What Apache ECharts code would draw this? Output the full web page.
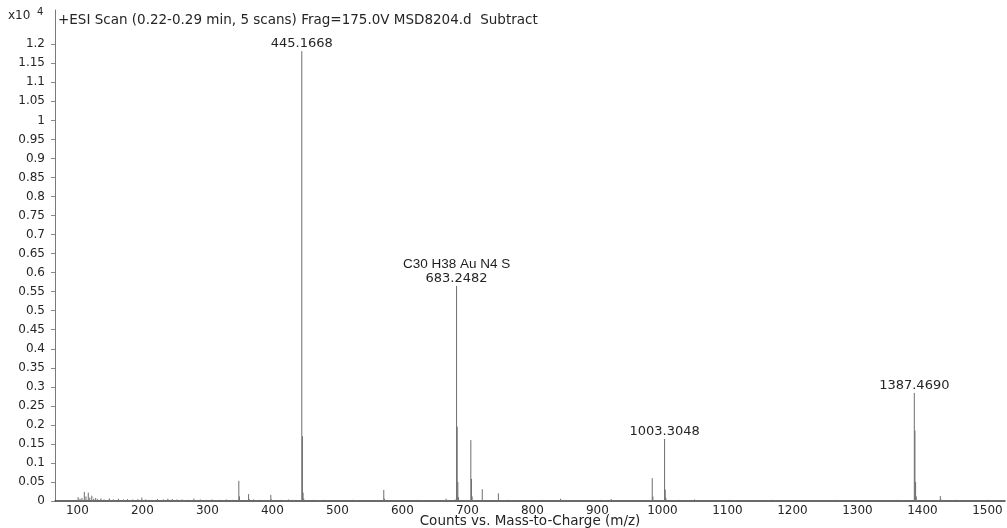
<!DOCTYPE html>
<html>
<head>
<meta charset="utf-8">
<title>ESI mass spectrum</title>
<script src="https://cdn.jsdelivr.net/npm/echarts@6/dist/echarts.min.js"></script>
<style>
  html, body { margin: 0; padding: 0; background: #fff; }
  #chart { width: 1007px; height: 528px; }
</style>
</head>
<body>
<div id="chart"></div>
<script>
// Scan header and axis text
const scanTitle = '+ESI Scan (0.22-0.29 min, 5 scans) Frag=175.0V MSD8204.d  Subtract';
const xAxisName = 'Counts vs. Mass-to-Charge (m/z)';

// Tick labels
const xTicks = [100, 200, 300, 400, 500, 600, 700, 800, 900, 1000, 1100, 1200, 1300, 1400, 1500];
const yTicks = [0, 0.05, 0.1, 0.15, 0.2, 0.25, 0.3, 0.35, 0.4, 0.45, 0.5, 0.55, 0.6,
                0.65, 0.7, 0.75, 0.8, 0.85, 0.9, 0.95, 1, 1.05, 1.1, 1.15, 1.2];

// Annotated peaks: m/z (also printed as label) and abundance (x10^4 counts)
const peakMz = [445.1668, 683.2482, 1003.3048, 1387.4690];
const peakAbundance = [1.182, 0.565, 0.163, 0.284];
const peakFormula = ['', 'C30 H38 Au N4 S', '', ''];

// Remaining centroid sticks: m/z and abundance (x10^4 counts)
const stickMz = [
  101.1, 104.0, 107.0, 110.6, 113.1, 116.7, 119.0, 122.1, 125.0, 128.1,
  131.0, 136.1, 141.0, 149.0, 155.1, 163.1, 171.0, 177.1, 185.1, 193.0,
  199.1, 205.1, 214.0, 223.1, 232.1, 239.1, 246.0, 253.1, 261.1, 271.0,
  279.1, 289.1, 298.1, 307.1, 318.1, 329.1, 339.0, 348.3, 349.3, 363.3,
  364.3, 371.1, 381.1, 397.5, 398.5, 412.1, 425.1, 431.1, 446.17, 447.17,
  448.17, 463.1, 479.1, 501.2, 523.2, 545.2, 571.3, 572.3, 599.2, 623.2,
  645.2, 667.2, 681.2, 684.25, 685.25, 686.25, 705.23, 706.23, 707.23, 722.8,
  747.6, 761.2, 783.3, 815.3, 843.3, 871.3, 905.3, 921.3, 960.3, 984.3,
  985.3, 1004.3, 1005.3, 1025.3, 1049.4, 1075.4, 1103.4, 1131.4, 1167.4, 1199.4,
  1231.4, 1265.4, 1299.5, 1331.5, 1361.5, 1388.47, 1389.47, 1390.47, 1427.5, 1428.5,
  1451.5, 1477.5, 1501.5
];
const stickAbundance = [
  0.010, 0.006, 0.008, 0.024, 0.012, 0.022, 0.009, 0.014, 0.006, 0.008,
  0.005, 0.007, 0.004, 0.007, 0.004, 0.006, 0.004, 0.005, 0.004, 0.005,
  0.009, 0.004, 0.003, 0.005, 0.004, 0.006, 0.005, 0.004, 0.004, 0.003,
  0.006, 0.004, 0.003, 0.004, 0.003, 0.004, 0.003, 0.053, 0.012, 0.018,
  0.005, 0.004, 0.003, 0.016, 0.004, 0.003, 0.004, 0.003, 0.170, 0.022,
  0.006, 0.003, 0.003, 0.002, 0.003, 0.002, 0.029, 0.006, 0.002, 0.003,
  0.002, 0.006, 0.004, 0.195, 0.050, 0.010, 0.160, 0.058, 0.012, 0.031,
  0.020, 0.003, 0.002, 0.003, 0.006, 0.002, 0.003, 0.005, 0.002, 0.060,
  0.012, 0.030, 0.008, 0.003, 0.004, 0.002, 0.003, 0.002, 0.003, 0.002,
  0.002, 0.003, 0.002, 0.002, 0.003, 0.185, 0.050, 0.012, 0.013, 0.004,
  0.003, 0.002, 0.003
];

const FONT = 'DejaVu Sans';
const STICK = '#6e6e6e';
const TEXT = '#252525';

const chart = echarts.init(document.getElementById('chart'), null, { renderer: 'canvas' });

function stickItem(params, api) {
  const x = api.value(0);
  const base = api.coord([x, 0]);
  const top = api.coord([x, api.value(1)]);
  return {
    type: 'line',
    shape: { x1: base[0], y1: base[1], x2: top[0], y2: top[1] },
    style: { stroke: STICK, lineWidth: 1 }
  };
}

function labelledItem(params, api) {
  const i = params.dataIndex;
  const x = api.value(0);
  const base = api.coord([x, 0]);
  const top = api.coord([x, api.value(1)]);
  const children = [
    {
      type: 'line',
      shape: { x1: base[0], y1: base[1], x2: top[0], y2: top[1] },
      style: { stroke: STICK, lineWidth: 1 }
    },
    {
      type: 'text',
      x: top[0], y: top[1] - 1,
      style: {
        text: peakMz[i].toFixed(4), fill: TEXT, font: '13px "' + FONT + '"',
        align: 'center', verticalAlign: 'bottom'
      }
    }
  ];
  if (peakFormula[i]) {
    children.push({
      type: 'text',
      x: top[0], y: top[1] - 15,
      style: {
        text: peakFormula[i], fill: '#1e1e1e', font: '13.5px "Liberation Sans"',
        align: 'center', verticalAlign: 'bottom'
      }
    });
  }
  return { type: 'group', children };
}

chart.setOption({
  animation: false,
  backgroundColor: '#ffffff',
  title: [
    {
      text: scanTitle,
      left: 58, top: 13, padding: 0,
      textStyle: { fontFamily: FONT, fontSize: 13.5, fontWeight: 'normal', color: TEXT }
    },
    {
      text: 'x10',
      left: 8, top: 10, padding: 0,
      textStyle: { fontFamily: FONT, fontSize: 12, fontWeight: 'normal', color: TEXT }
    },
    {
      text: '4',
      left: 37, top: 7, padding: 0,
      textStyle: { fontFamily: FONT, fontSize: 10, fontWeight: 'normal', color: TEXT }
    }
  ],
  grid: { left: 55, right: 2, top: 10, bottom: 27, outerBoundsMode: 'none' },
  xAxis: {
    type: 'value',
    min: 65.5,
    max: 1527,
    name: xAxisName,
    nameLocation: 'middle',
    nameGap: 13,
    nameMoveOverlap: false,
    nameTextStyle: { fontFamily: FONT, fontSize: 13.5, color: TEXT },
    axisLine: { show: true, onZero: false, lineStyle: { color: '#3a3a3a', width: 1.5 } },
    axisTick: { show: false },
    axisLabel: {
      margin: 4, fontFamily: FONT, fontSize: 12, color: TEXT,
      customValues: xTicks,
      formatter: v => String(v)
    },
    splitLine: { show: false }
  },
  yAxis: {
    type: 'value',
    min: 0,
    max: 1.29,
    axisLine: { show: true, lineStyle: { color: '#7a7a7a', width: 1 } },
    axisTick: { show: true, length: 4, lineStyle: { color: '#8a8a8a' }, customValues: yTicks },
    axisLabel: {
      margin: 10, fontFamily: FONT, fontSize: 12, color: TEXT,
      customValues: yTicks,
      formatter: v => String(v)
    },
    splitLine: { show: false }
  },
  series: [
    {
      type: 'custom',
      renderItem: stickItem,
      clip: true,
      data: stickMz.map((m, i) => [m, stickAbundance[i]])
    },
    {
      type: 'custom',
      renderItem: labelledItem,
      clip: false,
      data: peakMz.map((m, i) => [m, peakAbundance[i]])
    }
  ]
});
</script>
</body>
</html>
